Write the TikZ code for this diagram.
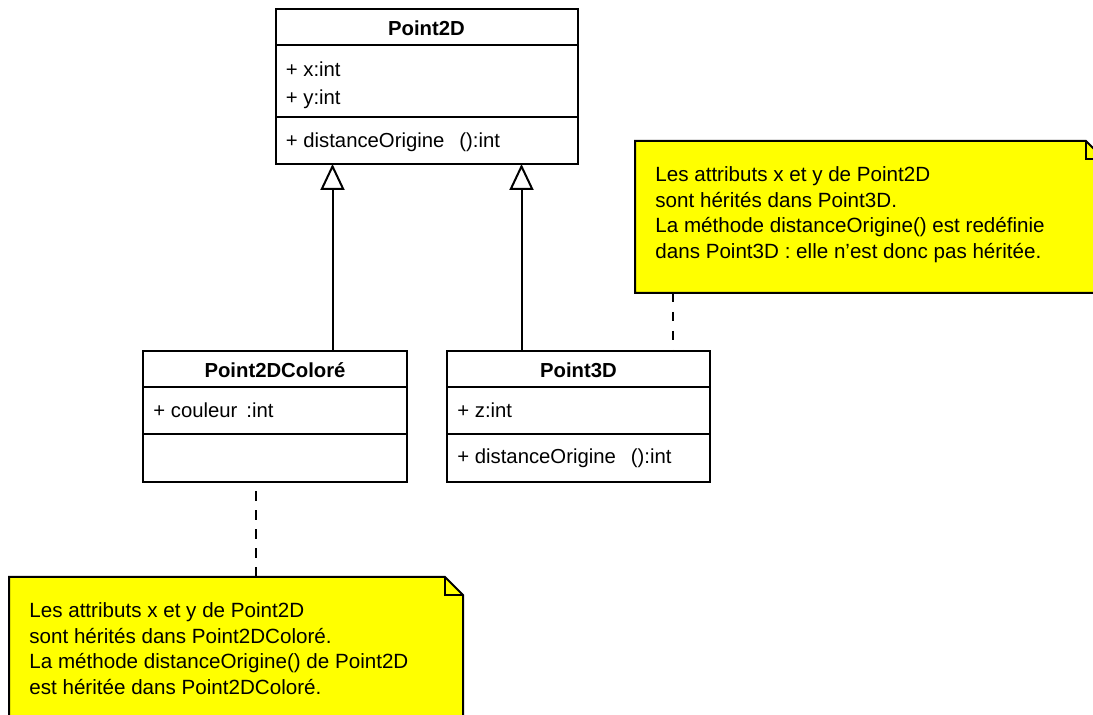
\documentclass[tikz,border=0pt]{standalone}
\usepackage{fontspec}
\setmainfont{Liberation Sans}
\usetikzlibrary{positioning}
\usetikzlibrary{arrows.meta}
\definecolor{notejaune}{RGB}{255,255,0}

\tikzset{
  classe/.style={draw, line width=1pt, outer sep=0pt, inner sep=0pt, anchor=north west},
  titre/.style={font=\fontsize{10.15}{12}\selectfont\bfseries, inner sep=0pt, text height=7.5pt, text depth=2.5pt},
  membre/.style={font=\fontsize{10.15}{12}\selectfont, inner sep=0pt, text height=7.5pt, text depth=2.5pt},
  separ/.style={line width=0.9pt},
  herite/.style={line width=1pt, -{Triangle[open, length=13pt, width=12pt]}},
  lien/.style={line width=0.9pt, dash pattern=on 4.75pt off 4.75pt},
  note/.style={anchor=north west, inner sep=0pt, outer sep=0pt},
  pli/.style={draw, line width=1pt, fill=notejaune},
  notetexte/.style={inner sep=0pt, align=left, font=\fontsize{10.3}{12.75}\selectfont},
}

\begin{document}
\begin{tikzpicture}[x=0.5pt, y=-0.5pt]
  \useasboundingbox (0,0) rectangle (1093,715);
  \clip (0,0) rectangle (1093,715);

  \node[classe, minimum width=151pt, minimum height=77.5pt] (p2d) at (275.5,9) {};
  \node[titre, below=5.5pt of p2d.north] (p2dt) {Point2D};
  \draw[separ] ([yshift=-18pt]p2d.north west) -- ([yshift=-18pt]p2d.north east);
  \node[membre, below right=26pt and 5pt of p2d.north west] (p2dx) {+ x:int};
  \node[membre, below right=40pt and 5pt of p2d.north west] (p2dy) {+ y:int};
  \draw[separ] ([yshift=-54pt]p2d.north west) -- ([yshift=-54pt]p2d.north east);
  \node[membre, below right=61.5pt and 5pt of p2d.north west] (p2dm) {+ distanceOrigine\hspace{7.5pt}():int};

  \node[classe, minimum width=132pt, minimum height=65.5pt] (p2dc) at (143,350.7) {};
  \node[titre, below=5.5pt of p2dc.north] (p2dct) {Point2DColoré};
  \draw[separ] ([yshift=-18pt]p2dc.north west) -- ([yshift=-18pt]p2dc.north east);
  \node[membre, below right=25.5pt and 5pt of p2dc.north west] (p2dcc) {+ couleur\hspace{4.5pt}:int};
  \draw[separ] ([yshift=-41.8pt]p2dc.north west) -- ([yshift=-41.8pt]p2dc.north east);

  \node[classe, minimum width=131.5pt, minimum height=65.5pt] (p3d) at (447,350.7) {};
  \node[titre, below=5.5pt of p3d.north] (p3dt) {Point3D};
  \draw[separ] ([yshift=-18pt]p3d.north west) -- ([yshift=-18pt]p3d.north east);
  \node[membre, below right=25.5pt and 5pt of p3d.north west] (p3dz) {+ z:int};
  \draw[separ] ([yshift=-41.8pt]p3d.north west) -- ([yshift=-41.8pt]p3d.north east);
  \node[membre, below right=48.6pt and 5pt of p3d.north west] (p3dm) {+ distanceOrigine\hspace{7.5pt}():int};

  \coordinate (h1) at ([xshift=-47pt]p2d.south);
  \coordinate (h2) at ([xshift=47.5pt]p2d.south);
  \draw[herite] (h1 |- p2dc.north) -- (h1);
  \draw[herite] (h2 |- p3d.north) -- (h2);

  \node[note, minimum width=234.5pt, minimum height=76pt] (n3d) at (635,141) {};
  \draw[pli] (n3d.south west) -- (n3d.north west) -- ([xshift=-9pt]n3d.north east)
    -- ([yshift=-9pt]n3d.north east) -- (n3d.south east) -- cycle;
  \draw[line width=1pt] ([xshift=-9pt]n3d.north east) |- ([yshift=-9pt]n3d.north east);
  \node[notetexte, below right=11.3pt and 10pt of n3d.north west] (t3d) {\strut Les attributs x et y de Point2D\\
    sont hérités dans Point3D.\\
    La méthode distanceOrigine() est redéfinie\\
    dans Point3D : elle n’est donc pas héritée.};

  \node[note, minimum width=227pt, minimum height=76pt] (n2dc) at (9,577) {};
  \draw[pli] (n2dc.south west) -- (n2dc.north west) -- ([xshift=-9pt]n2dc.north east)
    -- ([yshift=-9pt]n2dc.north east) -- (n2dc.south east) -- cycle;
  \draw[line width=1pt] ([xshift=-9pt]n2dc.north east) |- ([yshift=-9pt]n2dc.north east);
  \node[notetexte, below right=11.3pt and 10pt of n2dc.north west] (t2dc) {\strut Les attributs x et y de Point2D\\
    sont hérités dans Point2DColoré.\\
    La méthode distanceOrigine() de Point2D\\
    est héritée dans Point2DColoré.};

  \coordinate (d1) at ([xshift=-9.5pt]p2dc.south);
  \coordinate (d2) at ([xshift=19pt]n3d.south west);
  \draw[lien] (d1 |- n2dc.north) -- (d1);
  \draw[lien] (d2) -- (d2 |- p3d.north);
\end{tikzpicture}
\end{document}
